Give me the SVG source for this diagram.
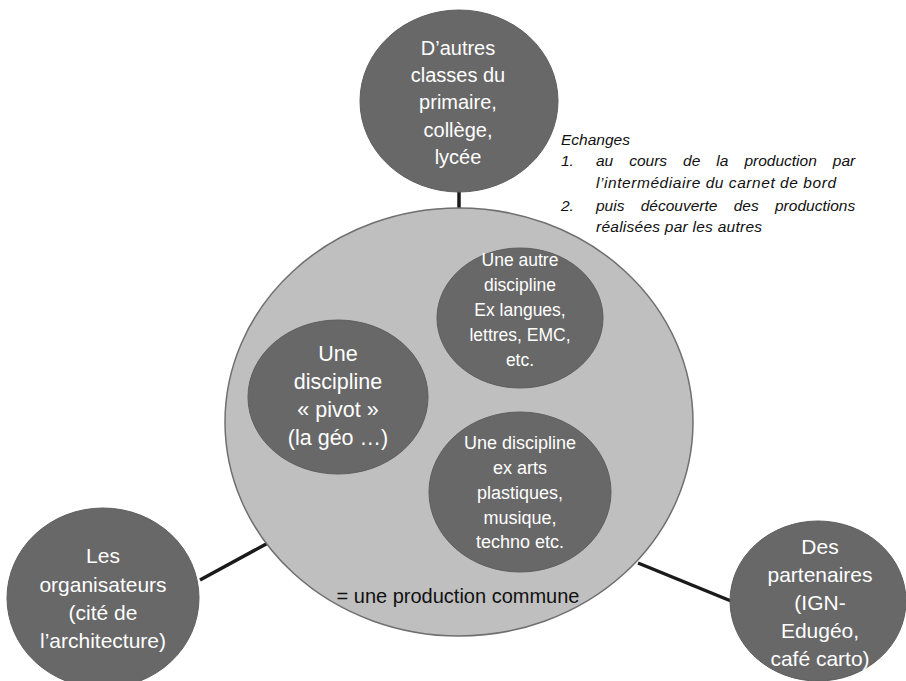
<svg xmlns="http://www.w3.org/2000/svg" width="906" height="681" viewBox="0 0 906 681">
<style>
.dark{fill:#686868;stroke:#5e5e5e;stroke-width:1}
.big{fill:#bfbfbf;stroke:#6f6f6f;stroke-width:1.5}
.lbl{font-family:"Liberation Sans",Arial,sans-serif;fill:#ffffff;text-anchor:middle}
.conn line{stroke:#1a1a1a;stroke-width:3.5;stroke-linecap:butt}
.note{font-family:"Liberation Sans",Arial,sans-serif;font-style:italic;font-size:15.5px;fill:#111}
</style>
<rect width="906" height="681" fill="#ffffff"/>
<g id="connectors" class="conn">
<line x1="459" y1="190" x2="459" y2="210"/>
<line x1="200" y1="580" x2="268" y2="543"/>
<line x1="638" y1="563" x2="731" y2="601"/>
<line x1="403" y1="338" x2="438" y2="323"/>
<line x1="520" y1="385" x2="520" y2="414"/>
<line x1="416" y1="436" x2="440" y2="455"/>
</g>
<g id="production">
<ellipse class="big" cx="459" cy="422" rx="234" ry="214"/>
<text x="458" y="603" font-family="Liberation Sans,Arial,sans-serif" font-size="20" fill="#111" text-anchor="middle">= une production commune</text>
</g>
<g id="pivot">
<ellipse class="dark" cx="338" cy="397" rx="90" ry="77"/>
<text class="lbl" font-size="21.5"><tspan x="338" y="361">Une</tspan><tspan x="338" y="389">discipline</tspan><tspan x="338" y="417">« pivot »</tspan><tspan x="338" y="445">(la géo …)</tspan></text>
</g>
<g id="autre">
<ellipse class="dark" cx="520" cy="318" rx="83" ry="70"/>
<text class="lbl" font-size="17.5"><tspan x="520" y="266">Une autre</tspan><tspan x="520" y="291">discipline</tspan><tspan x="520" y="316">Ex langues,</tspan><tspan x="520" y="341">lettres, EMC,</tspan><tspan x="520" y="366">etc.</tspan></text>
</g>
<g id="arts">
<ellipse class="dark" cx="520" cy="492" rx="91" ry="80"/>
<text class="lbl" font-size="18"><tspan x="520" y="449">Une discipline</tspan><tspan x="520" y="474">ex arts</tspan><tspan x="520" y="499">plastiques,</tspan><tspan x="520" y="524">musique,</tspan><tspan x="520" y="548">techno etc.</tspan></text>
</g>
<g id="classes">
<ellipse class="dark" cx="459" cy="101" rx="99" ry="91"/>
<text class="lbl" font-size="20"><tspan x="458" y="55">D’autres</tspan><tspan x="458" y="82">classes du</tspan><tspan x="458" y="109">primaire,</tspan><tspan x="458" y="137">collège,</tspan><tspan x="458" y="164">lycée</tspan></text>
</g>
<g id="organisateurs">
<ellipse class="dark" cx="103" cy="598" rx="96" ry="90"/>
<text class="lbl" font-size="21"><tspan x="103" y="563">Les</tspan><tspan x="103" y="592">organisateurs</tspan><tspan x="103" y="620">(cité de</tspan><tspan x="103" y="648">l’architecture)</tspan></text>
</g>
<g id="partenaires">
<ellipse class="dark" cx="818" cy="601" rx="88" ry="80"/>
<text class="lbl" font-size="21"><tspan x="820" y="554">Des</tspan><tspan x="820" y="582">partenaires</tspan><tspan x="820" y="610">(IGN-</tspan><tspan x="820" y="638">Edugéo,</tspan><tspan x="820" y="666">café carto)</tspan></text>
</g>
<g id="echanges">
<text class="note" x="561" y="145">Echanges</text>
<text class="note" x="561" y="166">1.</text>
<text class="note" y="166"><tspan x="596">au</tspan><tspan x="629.2">cours</tspan><tspan x="683.1">de</tspan><tspan x="716.3">la</tspan><tspan x="744.4">production</tspan><tspan x="832.8">par</tspan></text>
<text class="note" x="596" y="188" textLength="240" lengthAdjust="spacing">l’intermédiaire du carnet de bord</text>
<text class="note" x="561" y="211">2.</text>
<text class="note" y="211"><tspan x="596">puis</tspan><tspan x="640.7">découverte</tspan><tspan x="733.7">des</tspan><tspan x="775">productions</tspan></text>
<text class="note" x="596" y="232" textLength="166" lengthAdjust="spacing">réalisées par les autres</text>
</g>
</svg>
